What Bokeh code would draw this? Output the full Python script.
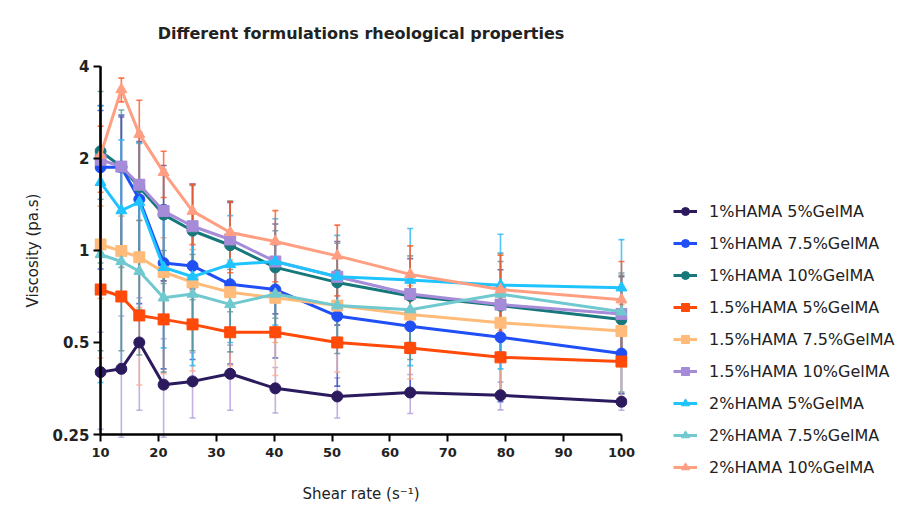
from bokeh.plotting import figure
from bokeh.models import (Range1d, FixedTicker, Whisker, TeeHead, ColumnDataSource,
                          Legend, LegendItem)
from bokeh.embed import file_html
from bokeh.resources import INLINE

# ---- data ----
shear_rate = [10, 13.6, 16.7, 20.9, 25.9, 32.4, 40.2, 50.9, 63.5, 79.1, 100]

names = ["1%HAMA 5%GelMA", "1%HAMA 7.5%GelMA", "1%HAMA 10%GelMA",
         "1.5%HAMA 5%GelMA", "1.5%HAMA 7.5%GelMA", "1.5%HAMA 10%GelMA",
         "2%HAMA 5%GelMA", "2%HAMA 7.5%GelMA", "2%HAMA 10%GelMA"]

h1_g5 = [0.40, 0.41, 0.50, 0.364, 0.373, 0.395, 0.354, 0.333, 0.343, 0.336, 0.32]
h1_g75 = [1.87, 1.87, 1.47, 0.91, 0.89, 0.775, 0.745, 0.61, 0.565, 0.52, 0.46]
h1_g10 = [2.11, 1.88, 1.61, 1.31, 1.16, 1.04, 0.88, 0.786, 0.71, 0.66, 0.594]
h15_g5 = [0.745, 0.707, 0.613, 0.595, 0.573, 0.54, 0.54, 0.50, 0.48, 0.447, 0.433]
h15_g75 = [1.046, 0.995, 0.95, 0.85, 0.786, 0.73, 0.70, 0.66, 0.617, 0.58, 0.545]
h15_g10 = [1.98, 1.88, 1.64, 1.345, 1.20, 1.086, 0.92, 0.82, 0.72, 0.665, 0.62]
h2_g5 = [1.67, 1.35, 1.44, 0.88, 0.82, 0.90, 0.92, 0.82, 0.80, 0.77, 0.755]
h2_g75 = [0.97, 0.92, 0.855, 0.70, 0.72, 0.666, 0.72, 0.66, 0.64, 0.72, 0.63]
h2_g10 = [2.05, 3.36, 2.40, 1.80, 1.345, 1.145, 1.07, 0.96, 0.835, 0.745, 0.69]

sd_h1_g5 = [0.14, 0.2, 0.2, 0.15, 0.09, 0.095, 0.06, 0.05, 0.05, 0.035, 0.02]
sd_h1_g75 = [1.0, 0.9, 0.8, 0.5, 0.45, 0.35, 0.3, 0.25, 0.22, 0.2, 0.12]
sd_h1_g10 = [1.2, 1.0, 0.64, 0.53, 0.47, 0.41, 0.28, 0.27, 0.25, 0.32, 0.25]
sd_h15_g5 = [0.3, 0.28, 0.25, 0.2, 0.17, 0.12, 0.15, 0.1, 0.1, 0.1, 0.1]
sd_h15_g75 = [0.35, 0.3, 0.3, 0.25, 0.22, 0.2, 0.2, 0.15, 0.15, 0.12, 0.12]
sd_h15_g10 = [1.0, 0.85, 0.8, 0.55, 0.45, 0.35, 0.3, 0.25, 0.22, 0.2, 0.2]
sd_h2_g5 = [1.3, 0.95, 0.8, 0.4, 0.4, 0.4, 0.35, 0.3, 0.38, 0.36, 0.33]
sd_h2_g75 = [0.5, 0.45, 0.4, 0.3, 0.25, 0.2, 0.2, 0.2, 0.2, 0.2, 0.2]
sd_h2_g10 = [0.5, 0.3, 0.7, 0.31, 0.3, 0.3, 0.28, 0.25, 0.2, 0.22, 0.23]

means = [h1_g5, h1_g75, h1_g10, h15_g5, h15_g75, h15_g10, h2_g5, h2_g75, h2_g10]
sds = [sd_h1_g5, sd_h1_g75, sd_h1_g10, sd_h15_g5, sd_h15_g75, sd_h15_g10,
       sd_h2_g5, sd_h2_g75, sd_h2_g10]

y_ticks = [0.25, 0.5, 1, 2, 4]
y_tick_labels = ["0.25", "0.5", "1", "2", "4"]
x_ticks = [10, 20, 30, 40, 50, 60, 70, 80, 90, 100]

# ---- styles ----
colors = ["#2b1a5e", "#1f4ff5", "#16787a", "#ff4a0a", "#ffbb7a", "#a58bd8",
          "#1fc4ff", "#70c9cf", "#ff9e80"]
err_colors = ["#b39ddb", "#3550c8", "#5e9a9c", "#ffab90", "#f3a46a", "#5a4a9e",
              "#29b6f6", "#5f8f96", "#ff5722"]
markers = ["circle", "circle", "circle", "square", "square", "square",
           "triangle", "triangle", "triangle"]
FONT = "DejaVu Sans"

p = figure(frame_width=533, frame_height=380, output_backend="svg",
           toolbar_location=None, y_axis_type="log",
           x_range=Range1d(8.96, 101.04), y_range=Range1d(0.239, 4.18))
p.min_border_left = 94
p.min_border_right = 275
p.min_border_top = 60
p.min_border_bottom = 57
p.outline_line_color = None
p.xgrid.visible = False
p.ygrid.visible = False
p.background_fill_color = "white"
p.border_fill_color = "white"

p.title.text = "Different formulations rheological properties"
p.title.align = "center"
p.title.text_font = FONT
p.title.text_font_size = "16px"
p.title.text_font_style = "bold"
p.title.text_color = "#222222"
p.title.standoff = 36

for ax in (p.xaxis[0], p.yaxis[0]):
    ax.axis_line_color = None
    ax.major_tick_line_width = 2
    ax.major_tick_line_color = "black"
    ax.major_tick_out = 1
    ax.major_tick_in = 6
    ax.minor_tick_line_color = None
    ax.major_label_text_font = FONT
    ax.major_label_text_font_style = "bold"
    ax.major_label_text_color = "#222222"
    ax.axis_label_text_font = FONT
    ax.axis_label_text_font_size = "15px"
    ax.axis_label_text_font_style = "normal"
    ax.axis_label_text_color = "#222222"

p.xaxis.ticker = FixedTicker(ticks=x_ticks)
p.xaxis.major_label_text_font_size = "13px"
p.xaxis.axis_label = "Shear rate (s\u207b\u00b9)"
p.xaxis.axis_label_standoff = 25
p.xaxis.major_label_standoff = 6

p.yaxis.ticker = FixedTicker(ticks=y_ticks)
p.yaxis.major_label_overrides = {t: l for t, l in zip(y_ticks, y_tick_labels)}
p.yaxis.major_label_text_font_size = "15px"
p.yaxis.axis_label = "Viscosity (pa.s)"
p.yaxis.axis_label_standoff = 7
p.yaxis.major_label_standoff = 4

# error bars
for m, s, ec in zip(means, sds, err_colors):
    lower = [max(v - d, 0.245) for v, d in zip(m, s)]
    upper = [v + d for v, d in zip(m, s)]
    src = ColumnDataSource(dict(x=shear_rate, lower=lower, upper=upper))
    w = Whisker(source=src, base="x", lower="lower", upper="upper",
                line_color=ec, line_width=1.6, line_alpha=0.8,
                upper_head=TeeHead(size=6, line_color=ec, line_width=1.6, line_alpha=0.8),
                lower_head=TeeHead(size=6, line_color=ec, line_width=1.6, line_alpha=0.8))
    p.add_layout(w)

items = []
for name, m, c, mk in zip(names, means, colors, markers):
    src = ColumnDataSource(dict(x=shear_rate, y=m))
    ln = p.line("x", "y", source=src, line_color=c, line_width=3)
    sc = p.scatter("x", "y", source=src, marker=mk, size=11, fill_color=c,
                   line_color=c)
    items.append(LegendItem(label=name, renderers=[ln, sc]))

# axis lines drawn at the data limits
p.line(x=[x_ticks[0], x_ticks[0]], y=[y_ticks[0], y_ticks[-1]], line_color="black",
       line_width=2.5)
p.line(x=[x_ticks[0], x_ticks[-1]], y=[y_ticks[0], y_ticks[0]], line_color="black",
       line_width=2.5)

legend = Legend(items=items, location=(46, -37), orientation="vertical")
legend.label_text_font = FONT
legend.label_text_font_size = "16px"
legend.label_text_color = "#222222"
legend.glyph_width = 24
legend.glyph_height = 20
legend.label_height = 20
legend.label_standoff = 12
legend.spacing = 12
legend.padding = 0
legend.margin = 0
legend.border_line_color = None
legend.background_fill_alpha = 0
p.add_layout(legend, "right")

open("out.html", "w").write(file_html(p, INLINE))
